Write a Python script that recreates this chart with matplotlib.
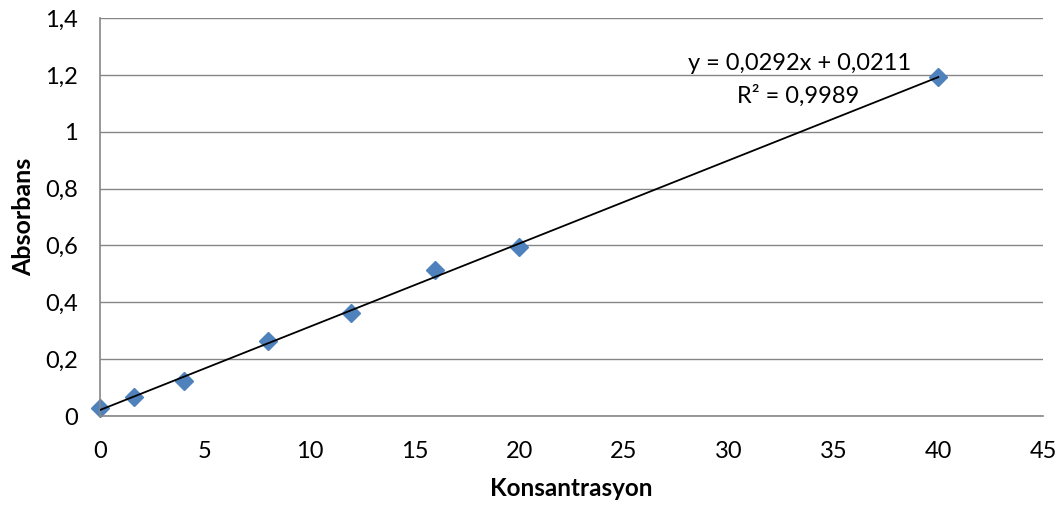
import numpy as np
import matplotlib
matplotlib.use("Agg")
import matplotlib.pyplot as plt
from matplotlib.ticker import FuncFormatter

x_conc = [0, 1.6, 4, 8, 12, 16, 20, 40]
y_abs = [0.028, 0.067, 0.123, 0.264, 0.362, 0.513, 0.594, 1.192]
x_ticks = [0, 5, 10, 15, 20, 25, 30, 35, 40, 45]
y_ticks = [0, 0.2, 0.4, 0.6, 0.8, 1.0, 1.2, 1.4]
eq_text = "y = 0,0292x + 0,0211"
r2_text = "R² = 0,9989"

plt.rcParams['font.family'] = ['Lato', 'DejaVu Sans']

fig = plt.figure(figsize=(10.59, 5.09), dpi=100)
ax = fig.add_axes([0.0944, 0.1827, 0.8906, 0.7819])

coef = np.polyfit(x_conc, y_abs, 1)
xt = np.array([min(x_conc), max(x_conc)])
ax.plot(xt, np.polyval(coef, xt), color='black', lw=1.3, zorder=3)
ax.plot(x_conc, y_abs, linestyle='none', marker='D', markersize=9,
        color='#4F81BD', markeredgecolor='#4F81BD', zorder=2, clip_on=False)

ax.set_xlim(0, 45)
ax.set_ylim(0, 1.4)
ax.set_xticks(x_ticks)
ax.set_yticks(y_ticks)
fmt = FuncFormatter(lambda v, p: ('%g' % round(v, 2)).replace('.', ','))
ax.xaxis.set_major_formatter(fmt)
ax.yaxis.set_major_formatter(fmt)
ax.grid(axis='y', color='#868686', lw=1)
ax.set_axisbelow(True)
for s in ['top', 'right']:
    ax.spines[s].set_visible(False)
for s in ['left', 'bottom']:
    ax.spines[s].set_color('#868686')
    ax.spines[s].set_linewidth(1.2)
ax.tick_params(length=0, labelsize=17)
ax.tick_params(axis='x', pad=18)
ax.tick_params(axis='y', pad=16)
ax.set_xlabel('Konsantrasyon', fontsize=17.5, fontweight='bold', labelpad=11)
ax.set_ylabel('Absorbans', fontsize=18, fontweight='bold', labelpad=7)

ax.text(33.4, 1.24, eq_text, ha='center', va='center', fontsize=17)
ax.text(33.3, 1.126, r2_text, ha='center', va='center', fontsize=17)

fig.savefig('out.png', dpi=100)
